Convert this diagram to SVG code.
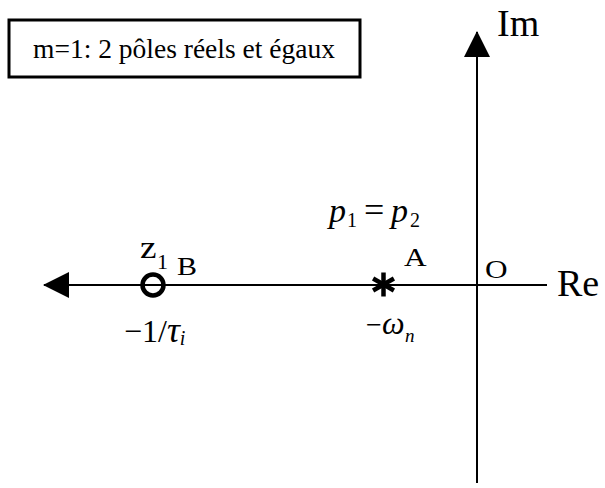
<svg xmlns="http://www.w3.org/2000/svg" width="605" height="488" viewBox="0 0 605 488">
<style>
.ax{stroke:#000;stroke-width:2;fill:none}
.it{font-style:italic}
.lbl{font-size:25px}
</style>
<defs>
<marker id="arr" markerWidth="26" markerHeight="26" refX="25" refY="13" orient="auto" markerUnits="userSpaceOnUse">
<path d="M0,0 L26,13 L0,26 Z" fill="#000"/>
</marker>
</defs>
<g font-family="Liberation Serif, 'Times New Roman', serif" fill="#000">
<g id="title">
<rect x="9" y="20" width="351" height="57" fill="#fff" stroke="#000" stroke-width="3"/>
<text x="184" y="58" font-size="27.5" text-anchor="middle">m=1: 2 pôles réels et égaux</text>
</g>
<g id="connectors">
<line class="ax" x1="547" y1="285" x2="44" y2="285" marker-end="url(#arr)"/>
<line class="ax" x1="477" y1="483" x2="477" y2="32" marker-end="url(#arr)"/>
</g>
<g id="axis-labels">
<text x="497" y="36" font-size="38">Im</text>
<text x="557" y="296" font-size="38">Re</text>
<text class="lbl" transform="translate(485,278) scale(1.25,1)">O</text>
</g>
<g id="zero">
<circle cx="153" cy="285" r="10.5" fill="none" stroke="#000" stroke-width="4.5"/>
<text transform="translate(140,258) scale(1.2,1)" font-size="31">z</text>
<text x="157" y="269" font-size="22">1</text>
<text class="lbl" transform="translate(177,275) scale(1.2,1)">B</text>
<text y="342" font-size="32"><tspan x="124">−1/</tspan><tspan class="it" font-size="36">τ</tspan><tspan class="it" font-size="20" dy="3">i</tspan></text>
</g>
<g id="pole">
<g stroke="#000" stroke-width="4.5" stroke-linecap="butt">
<line x1="383.5" y1="272.5" x2="383.5" y2="296.5"/>
<line x1="373.1" y1="278.5" x2="393.9" y2="290.5"/>
<line x1="373.1" y1="290.5" x2="393.9" y2="278.5"/>
</g>
<text class="lbl" transform="translate(404,266) scale(1.25,1)">A</text>
<text y="222" font-size="34"><tspan class="it" x="329">p</tspan><tspan x="347" y="227" font-size="20">1</tspan><tspan x="364" y="222" font-size="36">=</tspan><tspan class="it" x="391">p</tspan><tspan x="410" y="227" font-size="20">2</tspan></text>
<text y="334" font-size="28"><tspan x="366">−</tspan><tspan class="it" x="382" font-size="32">ω</tspan><tspan class="it" x="405" y="342" font-size="19">n</tspan></text>
</g>
</g>
</svg>
